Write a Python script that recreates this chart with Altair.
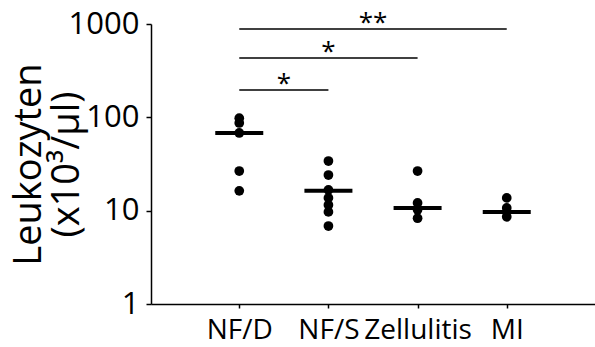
import altair as alt
import pandas as pd

categories = ["NF/D", "NF/S", "Zellulitis", "MI"]

nfd_values = [98, 87, 68, 26.6, 16.3]
nfs_values = [34, 24.1, 16.7, 13.7, 11.5, 9.7, 6.85]
zell_values = [26.6, 12.1, 10.2, 8.3]
mi_values = [13.7, 10.7, 8.6]

medians = [68, 16.3, 10.7, 9.7]

sig_from = ["NF/D", "NF/D", "NF/D"]
sig_to = ["NF/S", "Zellulitis", "MI"]
sig_y = [196, 432, 884]
sig_label = ["*", "*", "**"]

FONT = "Open Sans"

points = pd.DataFrame(
    [{"group": "NF/D", "value": v} for v in nfd_values]
    + [{"group": "NF/S", "value": v} for v in nfs_values]
    + [{"group": "Zellulitis", "value": v} for v in zell_values]
    + [{"group": "MI", "value": v} for v in mi_values]
)
med_df = pd.DataFrame({"group": categories, "median": medians})
sig_df = pd.DataFrame({"from": sig_from, "to": sig_to, "y": sig_y, "label": sig_label})

xscale = alt.Scale(type="point", domain=categories, padding=0.99)
yscale = alt.Scale(type="log", domain=[1, 1000])

x_axis = alt.Axis(
    title=None, labelAngle=0, labelFont=FONT, labelFontSize=28, labelColor="black",
    domainColor="black", domainWidth=1.5, tickColor="black", tickSize=4, tickWidth=1.5,
    labelPadding=8, grid=False,
)
y_axis = alt.Axis(
    title=["Leukozyten", "(x10³/µl)"], titleFont=FONT, titleFontSize=38, titleFontWeight="normal",
    titleColor="black", titleAngle=-90, titleX=-122, titleY=140, titleAlign="center",
    titleBaseline="middle", titleLineHeight=38,
    values=[1, 10, 100, 1000], format="d", labelFont=FONT, labelFontSize=31, labelColor="black",
    domainColor="black", domainWidth=1.5, tickColor="black", tickSize=5, tickWidth=1.5,
    labelPadding=7, grid=False,
)

dots = alt.Chart(points).mark_circle(size=95, color="black", opacity=1).encode(
    x=alt.X("group:N", scale=xscale, axis=x_axis, sort=categories),
    y=alt.Y("value:Q", scale=yscale, axis=y_axis),
)

med = alt.Chart(med_df).mark_tick(color="black", size=48, thickness=4, orient="horizontal", opacity=1).encode(
    x=alt.X("group:N", scale=xscale, sort=categories),
    y=alt.Y("median:Q", scale=yscale),
)

rules = alt.Chart(sig_df).mark_rule(color="black", strokeWidth=1.5).encode(
    x=alt.X("from:N", scale=xscale, sort=categories),
    x2="to:N",
    y=alt.Y("y:Q", scale=yscale),
)

stars = alt.Chart(sig_df).transform_calculate(
    xmid="indexof(['NF/D','NF/S','Zellulitis','MI'], datum.to) / 2"
).mark_text(font=FONT, fontSize=26, color="black", baseline="alphabetic", dy=2).encode(
    x=alt.X("xmid:Q", scale=alt.Scale(domain=[-0.99, 3.99]), axis=None),
    y=alt.Y("y:Q", scale=yscale),
    text="label:N",
)

base = alt.layer(dots, med, rules)

chart = alt.layer(base, stars).resolve_scale(x="independent").properties(
    width=444, height=280,
    autosize=alt.AutoSizeParams(type="none"),
    padding={"left": 151, "top": 24, "right": 0, "bottom": 43},
).configure(background="white").configure_view(stroke=None)

chart.save("out.html", embed_options={"renderer": "svg", "actions": False})
